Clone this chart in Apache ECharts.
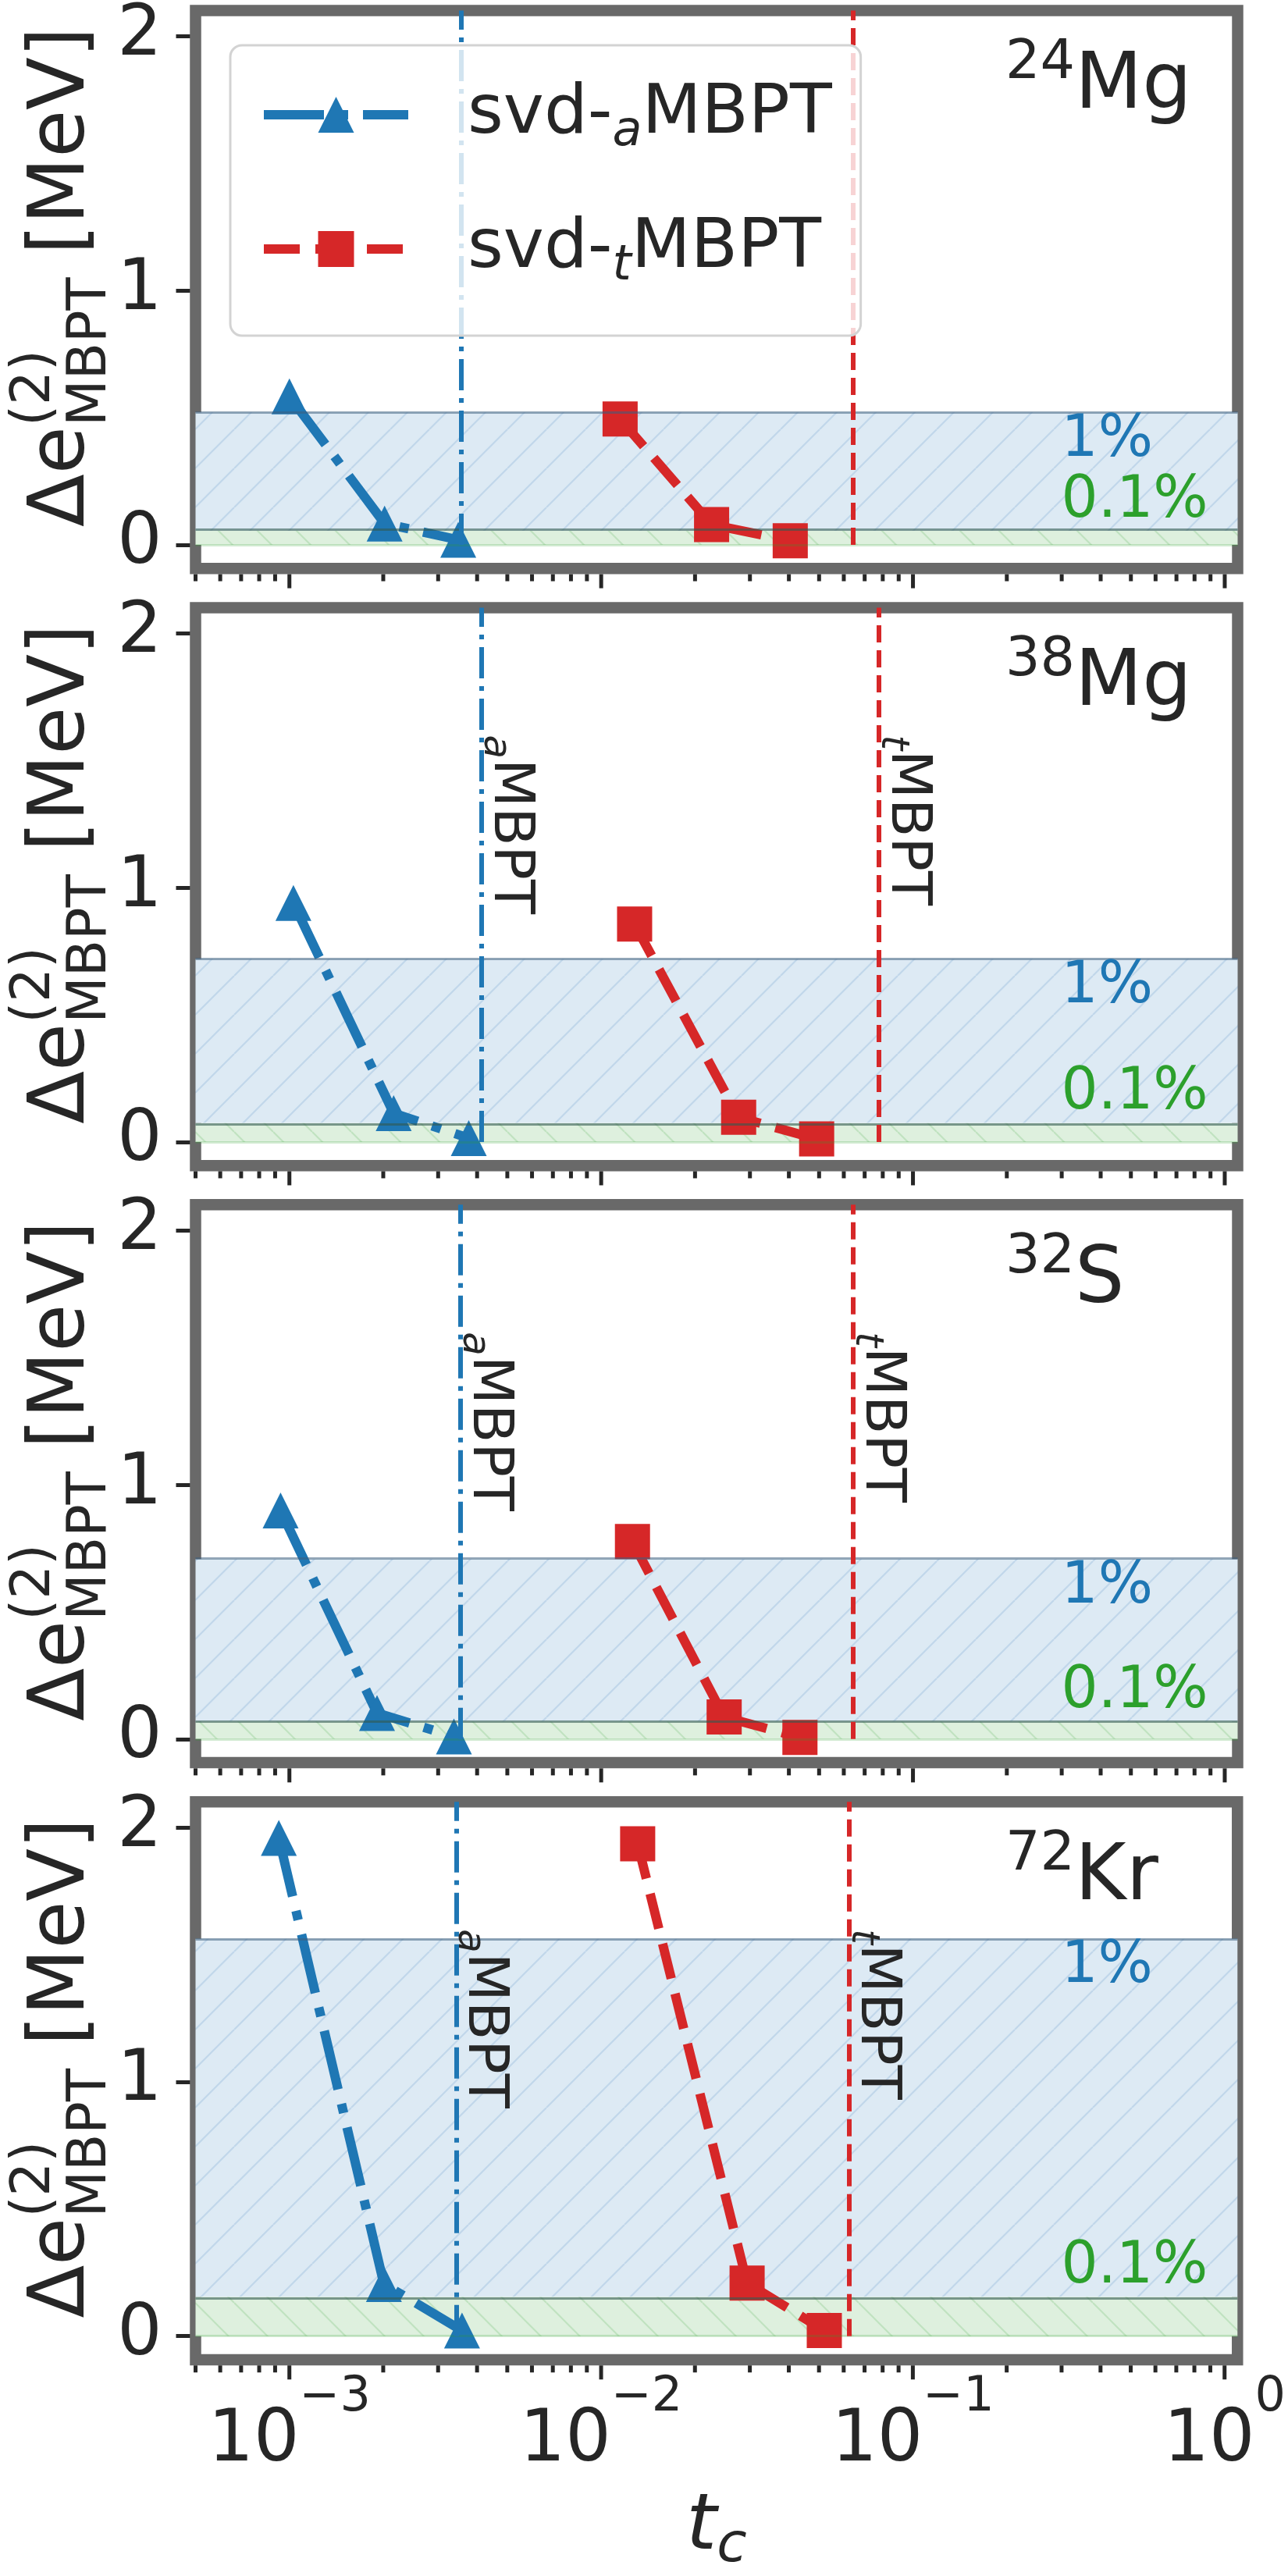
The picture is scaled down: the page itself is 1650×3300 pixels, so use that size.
<!DOCTYPE html>
<html><head><meta charset="utf-8">
<script src="https://cdn.jsdelivr.net/npm/echarts@6/dist/echarts.min.js"></script>
<style>html,body{margin:0;padding:0;background:#fff}#c{width:1650px;height:3300px}</style>
</head><body><div id="c"></div>
<script>
// ---------------- data ----------------
const isotopeMass = ['24', '38', '32', '72'];
const isotopeSymbol = ['Mg', 'Mg', 'S', 'Kr'];
// svd-aMBPT (blue triangles)
const aX = [[1.0e-3, 2.02e-3, 3.48e-3], [1.03e-3, 2.16e-3, 3.76e-3], [9.37e-4, 1.91e-3, 3.37e-3], [9.25e-4, 2.01e-3, 3.58e-3]];
const aY = [[0.584, 0.084, 0.02], [0.94, 0.113, 0.015], [0.899, 0.102, 0.01], [1.96, 0.205, 0.022]];
// svd-tMBPT (red squares)
const tX = [[1.15e-2, 2.26e-2, 4.04e-2], [1.28e-2, 2.76e-2, 4.91e-2], [1.26e-2, 2.48e-2, 4.34e-2], [1.31e-2, 2.94e-2, 5.2e-2]];
const tY = [[0.495, 0.08, 0.016], [0.857, 0.097, 0.012], [0.777, 0.087, 0.006], [1.937, 0.209, 0.022]];
// vertical reference lines (aMBPT, tMBPT)
const aRef = [3.55e-3, 4.14e-3, 3.54e-3, 3.43e-3];
const tRef = [6.43e-2, 7.77e-2, 6.43e-2, 6.24e-2];
// 1% and 0.1% bands
const onePct = [0.521, 0.72, 0.708, 1.563];
const tenthPct = [0.055, 0.0746, 0.069, 0.155];
const pctLabelX = 0.3;
const refLabelY = 1.6;
// axes
const xMin = 5e-4, xMax = 1.1;
const yMin = -0.093, yMax = 2.102;
const yTicks = [0, 1, 2];
const majorTicks = [1e-3, 1e-2, 1e-1, 1];
const minorTicks = [5e-4, 6e-4, 7e-4, 8e-4, 9e-4,
  2e-3, 3e-3, 4e-3, 5e-3, 6e-3, 7e-3, 8e-3, 9e-3,
  2e-2, 3e-2, 4e-2, 5e-2, 6e-2, 7e-2, 8e-2, 9e-2,
  0.2, 0.3, 0.4, 0.5, 0.6, 0.7, 0.8, 0.9];

// ---------------- style ----------------
const FONT = 'DejaVu Sans';
const TXT = '#262626';
const BLUE = '#1f77b4', RED = '#d62728', GREEN = '#2ca02c';
const FRAME = '#696969';
const GL = 250.5, GR = 64.5, TOP0 = 13.5, H = 714.8, STEP = 764.9;
const A_DASH = [77, 19, 12, 19], T_DASH = [46, 20];

function hatch(bg, fg, dir) {
  const s = 50, c = document.createElement('canvas');
  c.width = s; c.height = s;
  const g = c.getContext('2d');
  g.fillStyle = bg; g.fillRect(0, 0, s, s);
  g.strokeStyle = fg; g.lineWidth = 2.2;
  g.beginPath();
  if (dir === '/') {
    [0, s, 2 * s].forEach(cc => { g.moveTo(cc, 0); g.lineTo(cc - s, s); });
  } else {
    [-s, 0, s].forEach(cc => { g.moveTo(0, cc); g.lineTo(s, cc + s); });
  }
  g.stroke();
  return { image: c, repeat: 'repeat' };
}
const bluePat = hatch('rgb(221,234,244)', 'rgb(193,215,234)', '/');
const greenPat = hatch('rgb(222,240,222)', 'rgb(192,226,192)', '\\');

const tickData = majorTicks.map(v => [v, 1]).concat(minorTicks.map(v => [v, 0]));

const grids = [], xAxes = [], yAxes = [], series = [], titles = [], graphics = [];

for (let k = 0; k < 4; k++) {
  const top = TOP0 + k * STEP;
  grids.push({ left: GL, right: GR, top: top, height: H, show: true,
    borderColor: FRAME, borderWidth: 14.5, backgroundColor: '#fff' });
  const bottom = k === 3;
  xAxes.push({
    gridIndex: k, type: 'log', logBase: 10, min: xMin, max: xMax, offset: 7,
    axisLine: { show: false }, axisTick: { show: false }, splitLine: { show: false },
    axisLabel: bottom ? {
      show: true, margin: 11, hideOverlap: false, showMinLabel: true, showMaxLabel: true,
      formatter: v => {
        const e = Math.log10(v), r = Math.round(e);
        if (Math.abs(e - r) > 1e-6) return '';
        return '{b|10}{s|' + (r < 0 ? '\u2212' : '') + Math.abs(r) + '}';
      },
      rich: {
        b: { fontSize: 92, lineHeight: 133, height: 92, verticalAlign: 'bottom', color: TXT, fontFamily: FONT },
        s: { fontSize: 62, lineHeight: 62, height: 62, verticalAlign: 'top', color: TXT, fontFamily: FONT }
      }
    } : { show: false },
    name: bottom ? '{t|t}{c|c}' : '',
    nameLocation: 'middle', nameGap: 159,
    nameTextStyle: { rich: {
      t: { fontSize: 100, fontStyle: 'italic', lineHeight: 100, color: TXT, fontFamily: FONT },
      c: { fontSize: 70, fontStyle: 'italic', lineHeight: 20, height: 20, padding: [64, 0, 0, 0], verticalAlign: 'top', color: TXT, fontFamily: FONT }
    } }
  });
  yAxes.push({
    gridIndex: k, type: 'value', min: yMin, max: yMax, offset: 7,
    axisLine: { show: false }, splitLine: { show: false },
    axisTick: { show: true, length: 18, lineStyle: { color: TXT, width: 5 }, customValues: yTicks },
    axisLabel: { show: true, customValues: yTicks, fontSize: 90, color: TXT, margin: 36, fontFamily: FONT }
  });

  // bands + reference lines
  series.push({
    type: 'line', xAxisIndex: k, yAxisIndex: k, data: [], silent: true, z: 1,
    markArea: { silent: true, data: [
      [{ yAxis: 0, itemStyle: { color: greenPat, opacity: 1 } }, { yAxis: tenthPct[k] }],
      [{ yAxis: tenthPct[k], itemStyle: { color: bluePat, opacity: 1 } }, { yAxis: onePct[k] }]
    ] },
    markLine: { silent: true, symbol: 'none', label: { show: false }, emphasis: { disabled: true }, data: [
      { yAxis: onePct[k], lineStyle: { type: 'solid', width: 3, color: 'rgba(60,95,125,0.55)' } },
      { yAxis: tenthPct[k], lineStyle: { type: 'solid', width: 3, color: 'rgba(50,90,80,0.6)' } },
      { yAxis: 0, lineStyle: { type: 'solid', width: 3, color: 'rgba(44,160,44,0.22)' } },
      [{ coord: [aRef[k], 0], lineStyle: { type: [40, 10, 6, 10], width: 6, color: BLUE, cap: 'butt' } }, { coord: [aRef[k], yMax] }],
      [{ coord: [tRef[k], 0], lineStyle: { type: [22, 10], width: 6, color: RED, cap: 'butt' } }, { coord: [tRef[k], yMax] }]
    ] }
  });

  series.push({
    type: 'line', name: 'svd-aMBPT', xAxisIndex: k, yAxisIndex: k, z: 3,
    data: aX[k].map((x, i) => [x, aY[k][i]]),
    symbol: 'triangle', symbolSize: 46, clip: false,
    lineStyle: { color: BLUE, width: 12, type: A_DASH, cap: 'butt' },
    itemStyle: { color: BLUE }, emphasis: { disabled: true }
  });
  series.push({
    type: 'line', name: 'svd-tMBPT', xAxisIndex: k, yAxisIndex: k, z: 3,
    data: tX[k].map((x, i) => [x, tY[k][i]]),
    symbol: 'rect', symbolSize: 45, clip: false,
    lineStyle: { color: RED, width: 12, type: T_DASH, cap: 'butt' },
    itemStyle: { color: RED }, emphasis: { disabled: true }
  });

  // x ticks (major + minor) through the log axis
  series.push({
    type: 'custom', xAxisIndex: k, yAxisIndex: k, silent: true, z: 4, clip: false,
    data: tickData,
    renderItem: (params, api) => {
      const p = api.coord([api.value(0), yMin]);
      const len = api.value(1) ? 18 : 9;
      return { type: 'line', shape: { x1: p[0], y1: p[1] + 7.25, x2: p[0], y2: p[1] + 7.25 + len },
        style: { stroke: TXT, lineWidth: 5 } };
    }
  });

  // text labels
  const labelItems = [
    { value: [pctLabelX, onePct[k]], label: { formatter: '1%', color: BLUE, verticalAlign: 'top' } },
    { value: [pctLabelX, tenthPct[k]], label: { formatter: '0.1%', color: GREEN, verticalAlign: 'bottom' } }
  ];
  const refRich = {
    m: { fontSize: 72, lineHeight: 72, color: TXT, fontFamily: FONT },
    s: { fontSize: 50, fontStyle: 'italic', lineHeight: 30, height: 30, padding: [39.6, 0, 0, 0], verticalAlign: 'top', color: TXT, fontFamily: FONT }
  };
  if (k > 0) {
    labelItems.push({ value: [aRef[k], refLabelY], label: { formatter: '{s|a}{m|MBPT}', rotate: -90, verticalAlign: 'bottom', rich: refRich } });
    labelItems.push({ value: [tRef[k], refLabelY], label: { formatter: '{s|t}{m|MBPT}', rotate: -90, verticalAlign: 'bottom', rich: refRich } });
  }
  series.push({
    type: 'scatter', xAxisIndex: k, yAxisIndex: k, silent: true, z: 6, symbolSize: 1,
    itemStyle: { color: 'rgba(0,0,0,0)', opacity: 1 },
    label: { show: true, position: [0, 0], align: 'left', fontSize: 74, fontFamily: FONT, opacity: 1 },
    data: labelItems
  });

  titles.push({
    text: '{sup|' + isotopeMass[k] + '}{m|' + isotopeSymbol[k] + '}',
    left: 1288, top: 62 + k * STEP, padding: 0,
    textStyle: { fontWeight: 'normal', rich: {
      m: { fontSize: 100, lineHeight: 100, fontWeight: 'normal', color: TXT, fontFamily: FONT },
      sup: { fontSize: 70, lineHeight: 40, height: 40, verticalAlign: 'top', fontWeight: 'normal', color: TXT, fontFamily: FONT }
    } }
  });

  const yc = top + H / 2;
  const base = { fontFamily: FONT, fill: TXT, align: 'left', verticalAlign: 'middle' };
  graphics.push({ type: 'text', x: 81.3, y: yc + 304, rotation: Math.PI / 2, silent: true,
    style: Object.assign({ text: '\u0394e', fontSize: 99 }, base) });
  graphics.push({ type: 'text', x: 45.3, y: yc + 175, rotation: Math.PI / 2, silent: true,
    style: Object.assign({ text: '(2)', fontSize: 69 }, base) });
  graphics.push({ type: 'text', x: 117.3, y: yc + 175, rotation: Math.PI / 2, silent: true,
    style: Object.assign({ text: 'MBPT', fontSize: 69 }, base) });
  graphics.push({ type: 'text', x: 81.3, y: yc - 45, rotation: Math.PI / 2, silent: true,
    style: Object.assign({ text: '[MeV]', fontSize: 99 }, base) });
}

const chart = echarts.init(document.getElementById('c'), null, { renderer: 'canvas' });
chart.setOption({
  animation: false,
  backgroundColor: '#fff',
  textStyle: { fontFamily: FONT },
  grid: grids, xAxis: xAxes, yAxis: yAxes, series: series, title: titles,
  graphic: graphics,
  legend: {
    data: [
      { name: 'svd-aMBPT', lineStyle: { width: 12, type: A_DASH, color: BLUE, cap: 'butt' } },
      { name: 'svd-tMBPT', lineStyle: { width: 12, type: T_DASH, color: RED, cap: 'butt' } }
    ],
    orient: 'vertical', left: 295, top: 58,
    padding: [45, 37, 57, 37], itemGap: 74, itemWidth: 185, itemHeight: 57.5,
    backgroundColor: 'rgba(255,255,255,0.8)', borderColor: '#d3d3d3', borderWidth: 3, borderRadius: 15,
    selectedMode: false, z: 10,
    formatter: n => '{g| }{n|svd-}{s|' + (n === 'svd-aMBPT' ? 'a' : 't') + '}{n|MBPT}',
    textStyle: { rich: {
      g: { width: 71, lineHeight: 58 },
      n: { fontSize: 88, lineHeight: 58, color: TXT, fontFamily: FONT },
      s: { fontSize: 62, fontStyle: 'italic', lineHeight: 12, height: 12, padding: [46, 0, 0, 0], verticalAlign: 'top', color: TXT, fontFamily: FONT }
    } }
  }
});
</script>
</body></html>
